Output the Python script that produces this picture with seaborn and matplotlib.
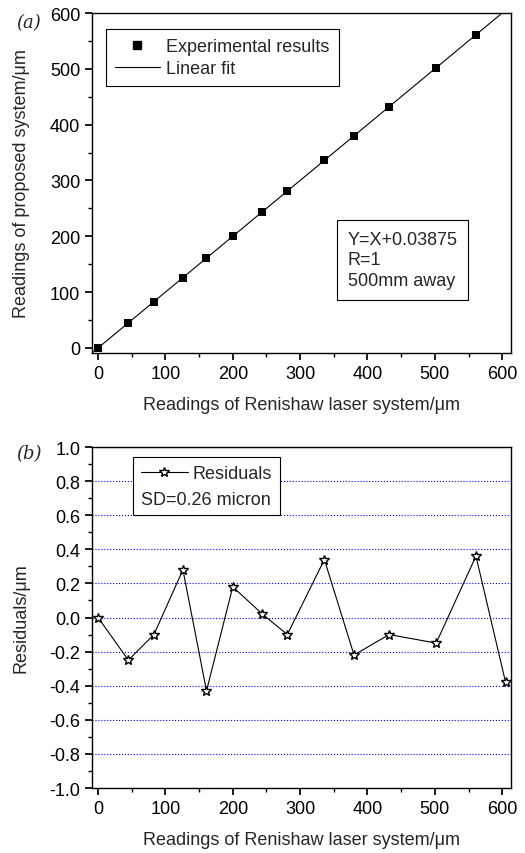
import matplotlib.pyplot as plt
import matplotlib.ticker as mticker
from matplotlib.lines import Line2D
import numpy as np
import pandas as pd
import seaborn as sns

# Data
renishaw = [0, 45, 83, 126, 161, 200, 244, 281, 336, 380, 432, 502, 561, 605]
proposed = [0, 45, 83, 126, 161, 200, 244, 281, 336, 380, 432, 502, 561, 605]
residuals = [0.0, -0.25, -0.10, 0.28, -0.43, 0.18, 0.02, -0.10, 0.34, -0.22,
             -0.10, -0.15, 0.36, -0.38]
fit_slope = 1.0
fit_intercept = 0.03875

df = pd.DataFrame({"renishaw": renishaw, "proposed": proposed, "resid": residuals})

FS = 13

sns.set_theme(style="ticks")
plt.rcParams["font.family"] = ["Liberation Sans", "DejaVu Sans"]
plt.rcParams.update({
    "axes.edgecolor": "black",
    "axes.linewidth": 1.0,
    "xtick.color": "black",
    "ytick.color": "black",
    "xtick.direction": "out",
    "ytick.direction": "out",
    "xtick.major.size": 5,
    "ytick.major.size": 5,
    "xtick.minor.size": 3,
    "ytick.minor.size": 3,
    "xtick.labelsize": FS,
    "ytick.labelsize": FS,
    "axes.labelsize": FS,
})

fig = plt.figure(figsize=(5.25, 8.54), dpi=100)
ax1 = fig.add_axes([0.1752, 0.5855, 0.7981, 0.3981])
ax2 = fig.add_axes([0.1752, 0.0761, 0.7981, 0.3993])

xlim = (-9, 613)

# (a) calibration
fit_x = np.array(xlim, dtype=float)
ax1.plot(fit_x, fit_slope * fit_x + fit_intercept, color="black", lw=0.8, zorder=2)
sns.scatterplot(data=df, x="renishaw", y="proposed", ax=ax1, marker="s", s=36,
                color="black", edgecolor="black", linewidth=0, zorder=3,
                legend=False)
ax1.set_xlim(*xlim)
ax1.set_ylim(-9, 600)
ax1.xaxis.set_major_locator(mticker.MultipleLocator(100))
ax1.xaxis.set_minor_locator(mticker.MultipleLocator(50))
ax1.yaxis.set_major_locator(mticker.MultipleLocator(100))
ax1.yaxis.set_minor_locator(mticker.MultipleLocator(50))
ax1.set_xlabel("Readings of Renishaw laser system/μm", labelpad=10)
ax1.set_ylabel("Readings of proposed system/μm", labelpad=14)

h1 = [Line2D([], [], ls="none", marker="s", color="black", markersize=6),
      Line2D([], [], color="black", lw=0.8)]
leg1 = ax1.legend(h1, ["Experimental results", "Linear fit"], loc="upper left",
                  bbox_to_anchor=(0.033, 0.952), fancybox=False, framealpha=1,
                  edgecolor="black", fontsize=FS, handlelength=2.5,
                  handletextpad=0.35, borderpad=0.5, labelspacing=0.25,
                  borderaxespad=0)
leg1.get_frame().set_linewidth(0.8)

ax1.text(0.61, 0.36, "Y=X+0.03875\nR=1\n500mm away", transform=ax1.transAxes,
         fontsize=FS, va="top", ha="left", linespacing=1.3,
         bbox=dict(boxstyle="square,pad=0.6", fc="white", ec="black", lw=0.8))

# (b) residuals
ax2.yaxis.grid(True, color="blue", linestyle=":", lw=0.8)
sns.lineplot(data=df, x="renishaw", y="resid", ax=ax2, color="black", lw=0.8,
             marker="*", markersize=7.5, markerfacecolor="white",
             markeredgecolor="black", markeredgewidth=1.0, zorder=3,
             clip_on=False)
ax2.set_xlim(*xlim)
ax2.set_ylim(-1.0, 1.0)
ax2.xaxis.set_major_locator(mticker.MultipleLocator(100))
ax2.xaxis.set_minor_locator(mticker.MultipleLocator(50))
ax2.yaxis.set_major_locator(mticker.MultipleLocator(0.2))
ax2.yaxis.set_minor_locator(mticker.MultipleLocator(0.1))
ax2.yaxis.set_major_formatter(mticker.FormatStrFormatter("%.1f"))
ax2.set_xlabel("Readings of Renishaw laser system/μm", labelpad=10)
ax2.set_ylabel("Residuals/μm", labelpad=14)

h2 = [Line2D([], [], color="black", lw=0.8, marker="*", markersize=7.5,
             markerfacecolor="white", markeredgecolor="black",
             markeredgewidth=1.0)]
leg2 = ax2.legend(h2, ["Residuals"], title="SD=0.26 micron", alignment="left",
                  loc="upper left", bbox_to_anchor=(0.098, 0.97),
                  fancybox=False, framealpha=1, edgecolor="black", fontsize=FS,
                  title_fontsize=FS, handlelength=2.6, handletextpad=0.3,
                  borderpad=0.42, borderaxespad=0)
leg2.get_frame().set_linewidth(0.8)
leg2._legend_box._children = leg2._legend_box._children[::-1]

for ax in (ax1, ax2):
    for side in ("top", "right"):
        ax.spines[side].set_visible(True)

fig.text(0.03, 0.973, "(a)", fontsize=13, family="DejaVu Serif", style="italic",
         va="center")
fig.text(0.03, 0.468, "(b)", fontsize=13, family="DejaVu Serif", style="italic",
         va="center")

fig.savefig("out.png", dpi=100)
